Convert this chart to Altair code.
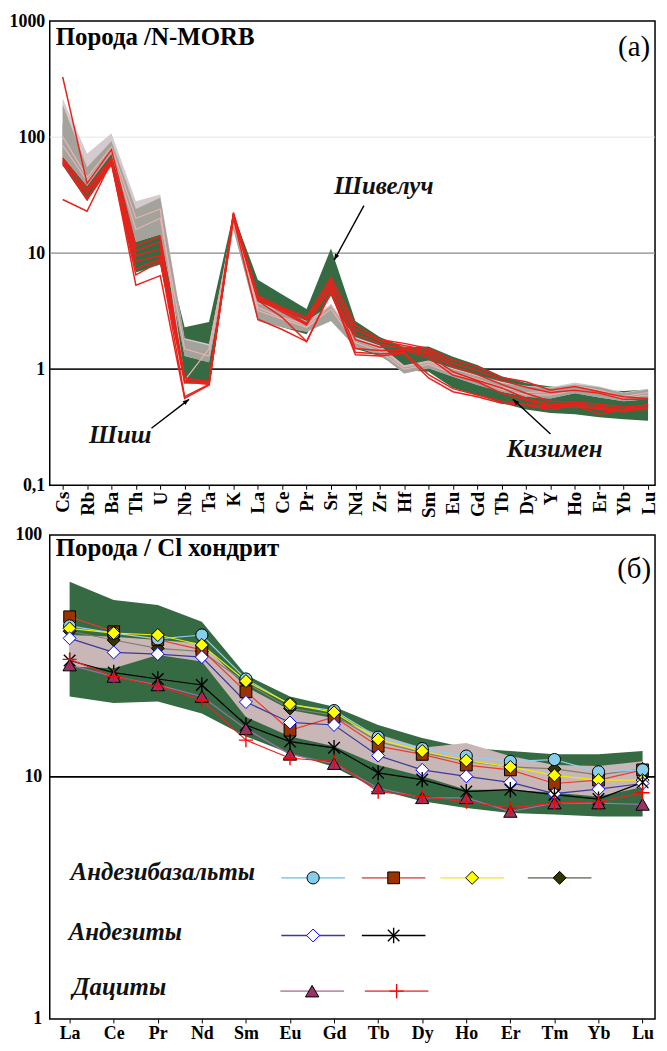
import altair as alt
import pandas as pd

# ---------------- panel (a): rock / N-MORB ----------------
ELEMENTS_A = ['Cs', 'Rb', 'Ba', 'Th', 'U', 'Nb', 'Ta', 'K', 'La', 'Ce', 'Pr', 'Sr', 'Nd',
              'Zr', 'Hf', 'Sm', 'Eu', 'Gd', 'Tb', 'Dy', 'Y', 'Ho', 'Er', 'Yb', 'Lu']
Y_TICKS_A = [0.1, 1, 10, 100, 1000]
Y_LABELS_A = ['0,1', '1', '10', '100', '1000']

SHIVELUCH_HI = [130, 45, 80, 13.5, 16.5, 2.3, 2.55, 22, 5.9, 4.4, 3.3, 11, 2.6, 1.9, 1.55,
                1.57, 1.28, 1.09, 0.87, 0.76, 0.71, 0.69, 0.66, 0.65, 0.67]
SHIVELUCH_LO = [57, 28, 58, 6.8, 8.0, 0.78, 0.76, 17, 2.7, 2.3, 2.0, 4.3, 1.5, 1.3, 0.98,
                0.95, 0.69, 0.60, 0.51, 0.45, 0.42, 0.41, 0.385, 0.37, 0.36]
KIZIMEN_OUTER_HI = [215, 72, 108, 28, 32, 1.85, 1.65, 19.5, 3.8, 3.2, 2.6, 3.6, 1.9, 1.6, 1.08,
                    1.19, 1.02, 0.89, 0.78, 0.72, 0.70, 0.77, 0.71, 0.63, 0.68]
KIZIMEN_HI = [190, 55, 92, 24, 30, 1.8, 1.6, 19, 3.7, 3.1, 2.55, 3.5, 1.85, 1.55, 1.06,
              1.17, 1.0, 0.87, 0.76, 0.71, 0.69, 0.74, 0.70, 0.62, 0.67]
KIZIMEN_LO = [68, 38, 72, 12.5, 14.5, 1.3, 1.15, 16, 2.6, 2.3, 2.1, 2.6, 1.55, 1.33, 0.92,
              1.02, 0.86, 0.73, 0.64, 0.58, 0.56, 0.62, 0.57, 0.53, 0.55]

SHISH_1 = [330, 40, 78, 11.6, 14, 0.84, 0.77, 22.4, 4.3, 3.4, 2.8, 6.2, 2.4, 1.8, 1.67,
           1.51, 1.2, 1.05, 0.85, 0.78, 0.66, 0.71, 0.64, 0.58, 0.56]
SHISH_2 = [29, 23, 62, 5.3, 6.4, 0.56, 0.73, 21.5, 4.2, 3.3, 2.7, 5.6, 2.2, 1.75, 1.6,
           1.45, 1.12, 0.98, 0.8, 0.7, 0.63, 0.66, 0.62, 0.55, 0.55]
SHISH_3 = [62, 30, 60, 7.3, 8.9, 0.58, 0.74, 20.5, 3.9, 2.8, 1.73, 4.6, 1.33, 1.3, 1.37,
           0.84, 0.64, 0.58, 0.51, 0.49, 0.45, 0.49, 0.41, 0.45, 0.45]
SHISH_4 = [60, 29, 58, 6.5, 8.5, 0.8, 0.75, 20, 2.7, 2.2, 1.73, 4.7, 1.4, 1.35, 1.4,
           0.9, 0.68, 0.6, 0.53, 0.5, 0.47, 0.5, 0.45, 0.43, 0.47]
SHISH_5 = [66, 36, 66, 9.5, 10.9, 0.84, 0.78, 22, 4.3, 3.3, 2.5, 5.8, 2.0, 1.65, 1.5,
           1.33, 0.95, 0.8, 0.69, 0.56, 0.5, 0.5, 0.48, 0.44, 0.47]
SHISH_6 = [58, 33, 62, 8.5, 9.5, 0.76, 0.76, 21, 4.0, 3.1, 2.4, 5.3, 1.51, 1.45, 1.46,
           1.25, 0.89, 0.78, 0.62, 0.54, 0.48, 0.47, 0.46, 0.45, 0.5]
SHISH_7 = [64, 35, 64, 10.5, 12.5, 0.78, 0.74, 21.5, 4.1, 3.2, 2.45, 5.0, 1.8, 1.55, 1.55,
           1.38, 1.05, 0.9, 0.74, 0.62, 0.53, 0.52, 0.5, 0.47, 0.49]
KIZ_LINE_1 = [101, 45, 82, 20, 24, 0.8, 1.5, 19, 3.4, 2.8, 2.4, 3.6, 1.8, 1.5, 1.05,
              1.15, 0.95, 0.82, 0.7, 0.63, 0.64, 0.72, 0.66, 0.58, 0.63]
KIZ_LINE_2 = [85, 42, 76, 16, 20, 1.5, 1.3, 18, 3.2, 2.7, 2.3, 3.3, 1.7, 1.42, 1.0,
              1.1, 0.92, 0.8, 0.67, 0.6, 0.6, 0.66, 0.62, 0.56, 0.6]

TITLE_A = 'Порода /N-MORB'
TAG_A = '(а)'
NAMES_A = ['Шивелуч', 'Шиш', 'Кизимен']
# arrows: tail (index, value) -> head (index, value), head angle
ARROW_I = [12.35, 3.64, 20.0]
ARROW_V = [25.7, 0.31, 0.276]
ARROW_I2 = [11.13, 5.18, 18.46]
ARROW_V2 = [8.7, 0.55, 0.55]
ARROW_ANGLE = [208, 53, 313]

# ---------------- panel (b): rock / CI chondrite ----------------
ELEMENTS_B = ['La', 'Ce', 'Pr', 'Nd', 'Sm', 'Eu', 'Gd', 'Tb', 'Dy', 'Ho', 'Er', 'Tm', 'Yb', 'Lu']
Y_TICKS_B = [1, 10, 100]
Y_LABELS_B = ['1', '10', '100']

GREEN_HI_B = [64, 53.8, 51.4, 43.8, 26.4, 21.5, 19.5, 16.4, 14.5, 13.2, 12.8, 12.4, 12.4, 12.8]
GREEN_LO_B = [21.5, 20.2, 20.5, 18.3, 14.7, 12.5, 11.0, 8.86, 7.93, 7.45, 7.1, 7.0, 6.87, 6.87]
PINK_HI_B = [38.6, 38, 36.8, 35.6, 23.6, 18.9, 17.5, 15.0, 13.2, 13.8, 12.2, 11.2, 11.1, 11.6]
PINK_LO_B = [28.6, 28.1, 31.9, 30, 17.7, 14.7, 13.4, 11.2, 10.06, 8.86, 8.86, 8.6, 8.3, 9.1]

AB_CIRCLE = [42.1, 39.3, 37.2, 38.6, 25.4, 19.9, 18.8, 14.6, 13.1, 12.2, 11.6, 11.8, 10.5, 10.7]
AB_SQUARE = [45.9, 39.8, 36.9, 33.5, 22.5, 15.6, 17.7, 13.4, 12.4, 11.2, 10.7, 9.4, 9.7, 10.7]
AB_YDIAMOND = [41.1, 39.3, 38.6, 35.1, 24.9, 20.0, 18.5, 14.3, 12.8, 11.7, 11.0, 10.15, 9.7, 9.7]
AB_DDIAMOND = [40, 36.8, 34, 33, 24.5, 19.2, 18, 14, 12.6, 11.6, 11, 10.8, 10.2, 10.8]
AN_WDIAMOND = [37.4, 32.7, 32.2, 31.3, 20.4, 16.8, 16.4, 12.25, 10.7, 10.06, 9.5, 8.53, 8.9, 9.4]
AN_ASTER = [30.3, 27.0, 25.4, 24.0, 16.4, 14.0, 13.2, 10.4, 9.75, 8.7, 8.86, 8.45, 8.1, 9.5]
DA_TRIANGLE = [29.0, 26.0, 24.0, 21.5, 15.8, 12.4, 11.35, 9.0, 8.2, 8.2, 7.2, 7.8, 7.8, 7.7]
DA_PLUS = [30.6, 26.0, 23.8, 20.8, 14.2, 11.95, 11.6, 8.7, 8.3, 7.9, 7.45, 7.8, 7.9, 8.6]

TITLE_B = 'Порода / Cl хондрит'
TAG_B = '(б)'
GROUPS_B = ['Андезибазальты', 'Андезиты', 'Дациты']

# ---------------- styling ----------------
SERIF = 'Liberation Serif'
GREEN = '#356a43'
ASTER = 'M0,-1L0,1M-0.75,-0.75L0.75,0.75M-0.75,0.75L0.75,-0.75'
PLUS = 'M-1,0L1,0M0,-1L0,1'
ARROWHEAD = 'M0,0L-0.45,1.2L0.45,1.2Z'

STYLE_B = {
    'ab4': dict(vals=AB_DDIAMOND, line='#7f7f70', shape='diamond', fill='#333300', stroke='black', size=170),
    'ab2': dict(vals=AB_SQUARE, line='#ee3a2a', shape='square', fill='#993300', stroke='black', size=140),
    'ab1': dict(vals=AB_CIRCLE, line='#8fd0ee', shape='circle', fill='#87cdec', stroke='black', size=150),
    'ab3': dict(vals=AB_YDIAMOND, line='#ecec00', shape='diamond', fill='#ffff00', stroke='black', size=170),
    'an1': dict(vals=AN_WDIAMOND, line='#3a3a9a', shape='diamond', fill='white', stroke='#0000ff', size=170),
    'an2': dict(vals=AN_ASTER, line='black', shape=ASTER, fill=None, stroke='black', size=240),
    'da1': dict(vals=DA_TRIANGLE, line='#a070a8', shape='triangle-up', fill='#993366', stroke='black', size=180),
    'da2': dict(vals=DA_PLUS, line='#ee2222', shape=PLUS, fill=None, stroke='#ff0000', size=200),
}
LEGEND_ROWS = [
    (GROUPS_B[0], 21, 339, 345, [('ab1', 265), ('ab2', 346), ('ab3', 425), ('ab4', 513)]),
    (GROUPS_B[1], 19, 400, 403, [('an1', 265), ('an2', 346)]),
    (GROUPS_B[2], 23, 455, 459, [('da1', 264), ('da2', 349)]),
]
LEGEND_LINE = {'ab1': '#8fd0ee', 'ab2': '#e07068', 'ab3': '#f0f060', 'ab4': '#8a8a80',
               'an1': '#3a3a9a', 'an2': 'black', 'da1': '#c090b0', 'da2': '#e86060'}


def expr_from(keys, labels):
    parts = [f"datum.value == {k} ? '{l}'" for k, l in zip(keys, labels)]
    return ' : '.join(parts) + " : ''"


def points_marker(st, **kw):
    if st['fill'] is None:
        return dict(shape=st['shape'], size=st['size'], filled=False, stroke=st['stroke'],
                    strokeWidth=1.4, opacity=1, **kw)
    return dict(shape=st['shape'], size=st['size'], filled=True, fill=st['fill'],
                stroke=st['stroke'], strokeWidth=1, opacity=1, fillOpacity=1, **kw)


# ================= Panel A =================
W, HA, HB = 609, 467, 487
idx_a = list(range(len(ELEMENTS_A)))
label_expr_a = '[' + ','.join(f"'{e}'" for e in ELEMENTS_A) + '][datum.value]'
XA = alt.X('i:Q', scale=alt.Scale(domain=[-0.53, 24.285], nice=False, zero=False),
           axis=alt.Axis(values=idx_a, labelExpr=label_expr_a, labelAngle=270, labelFont=SERIF,
                         labelFontWeight='bold', labelFontSize=19, labelColor='black',
                         tickColor='black', tickSize=4, labelPadding=2, domain=False, grid=False,
                         labelOverlap=False, labelFlush=False, labelBound=False),
           title=None)
YA_SCALE = alt.Scale(type='log', domain=[0.1, 1000], nice=False)
YA_AXIS = alt.Axis(values=Y_TICKS_A, labelExpr=expr_from(Y_TICKS_A, Y_LABELS_A), labelFont=SERIF,
                   labelFontWeight='bold', labelFontSize=18, labelColor='black', ticks=False,
                   labelPadding=5, domain=False, grid=False, labelOverlap=False, labelFlush=False)


def YA(field):
    return alt.Y(field, scale=YA_SCALE, axis=YA_AXIS, title=None)


env_a = pd.DataFrame({'i': idx_a, 'shv_hi': SHIVELUCH_HI, 'shv_lo': SHIVELUCH_LO,
                      'kz_oh': KIZIMEN_OUTER_HI, 'kz_hi': KIZIMEN_HI, 'kz_lo': KIZIMEN_LO})
red_sets = {'s1': SHISH_1, 's2': SHISH_2, 's3': SHISH_3, 's4': SHISH_4, 's5': SHISH_5,
            's6': SHISH_6, 's7': SHISH_7}
red_df = pd.DataFrame([{'i': i, 'v': v, 'line': k} for k, vals in red_sets.items()
                       for i, v in enumerate(vals)])
pink_df = pd.DataFrame([{'i': i, 'v': v, 'line': k} for k, vals in
                        {'k1': KIZ_LINE_1, 'k2': KIZ_LINE_2}.items() for i, v in enumerate(vals)])
refs_a = pd.DataFrame({'v': [100, 10, 1]})

base_env = alt.Chart(env_a)
la = []
la.append(alt.Chart(refs_a.iloc[[0]]).mark_rule(color='#e6e6e6', strokeWidth=1).encode(y=YA('v:Q')))
la.append(alt.Chart(refs_a.iloc[[1]]).mark_rule(color='#8a8a8a', strokeWidth=1.2).encode(y=YA('v:Q')))
la.append(alt.Chart(refs_a.iloc[[2]]).mark_rule(color='#222222', strokeWidth=1.8).encode(y=YA('v:Q')))
la.append(base_env.mark_area(color=GREEN, opacity=1).encode(x=XA, y=YA('shv_hi:Q'), y2='shv_lo:Q'))
la.append(base_env.mark_area(color='#d5cbcf', opacity=1).encode(x=XA, y=YA('kz_oh:Q'), y2='kz_lo:Q'))
la.append(base_env.mark_area(color='#a3a39c', opacity=1).encode(x=XA, y=YA('kz_hi:Q'), y2='kz_lo:Q'))
la.append(alt.Chart(pink_df).mark_line(color='#e9b3b3', strokeWidth=1.2).encode(
    x=XA, y=YA('v:Q'), detail='line:N'))
la.append(alt.Chart(red_df).mark_line(color='#e8231c', strokeWidth=1.5).encode(
    x=XA, y=YA('v:Q'), detail='line:N'))

arrows = pd.DataFrame({'i': ARROW_I, 'v': ARROW_V, 'i2': ARROW_I2, 'v2': ARROW_V2})
heads = pd.DataFrame({'i': ARROW_I2, 'v': ARROW_V2, 'ang': ARROW_ANGLE})
la.append(alt.Chart(arrows).mark_rule(color='black', strokeWidth=1.4).encode(
    x=XA, y=YA('v:Q'), x2='i2:Q', y2='v2:Q'))
la.append(alt.Chart(heads).mark_point(shape=ARROWHEAD, size=110, filled=True, color='black',
                                      opacity=1).encode(
    x=XA, y=YA('v:Q'), angle=alt.Angle('ang:Q', scale=None)))

txt = lambda t: alt.Chart(pd.DataFrame({'t': [t]}))
la.append(txt(TITLE_A).mark_text(font=SERIF, fontWeight='bold', fontSize=25, align='left',
                                  baseline='alphabetic', color='black').encode(
    x=alt.value(6), y=alt.value(24), text='t:N'))
la.append(txt(TAG_A).mark_text(font=SERIF, fontSize=29, align='right', baseline='alphabetic',
                                color='black').encode(x=alt.value(604), y=alt.value(35), text='t:N'))
for name, px, py in zip(NAMES_A, [336, 71, 508], [165.5, 416.5, 430.5]):
    la.append(txt(name).mark_text(font=SERIF, fontWeight='bold', fontStyle='italic', fontSize=25,
                                  align='center', baseline='middle', color='#111').encode(
        x=alt.value(px), y=alt.value(py), text='t:N'))

panel_a = alt.layer(*la).properties(width=W, height=HA)

# ================= Panel B =================
idx_b = list(range(len(ELEMENTS_B)))
label_expr_b = '[' + ','.join(f"'{e}'" for e in ELEMENTS_B) + '][datum.value]'
XB_SCALE = alt.Scale(domain=[-0.451, 13.282], nice=False, zero=False)
XB = alt.X('i:Q', scale=XB_SCALE,
           axis=alt.Axis(values=idx_b, labelExpr=label_expr_b, labelAngle=0, labelFont=SERIF,
                         labelFontWeight='bold', labelFontSize=18, labelColor='black',
                         tickColor='black', tickSize=4, labelPadding=2, domain=False, grid=False,
                         labelOverlap=False, labelFlush=False),
           title=None)
YB_SCALE = alt.Scale(type='log', domain=[1, 100], nice=False)
YB_AXIS = alt.Axis(values=Y_TICKS_B, labelExpr=expr_from(Y_TICKS_B, Y_LABELS_B), labelFont=SERIF,
                   labelFontWeight='bold', labelFontSize=18, labelColor='black', ticks=False,
                   labelPadding=8, domain=False, grid=False, labelOverlap=False, labelFlush=False)


def YB(field):
    return alt.Y(field, scale=YB_SCALE, axis=YB_AXIS, title=None)


env_b = pd.DataFrame({'i': idx_b, 'g_hi': GREEN_HI_B, 'g_lo': GREEN_LO_B,
                      'p_hi': PINK_HI_B, 'p_lo': PINK_LO_B})
lb = []
lb.append(alt.Chart(pd.DataFrame({'v': [10]})).mark_rule(color='black', strokeWidth=1.8).encode(y=YB('v:Q')))
lb.append(alt.Chart(env_b).mark_area(color=GREEN, opacity=1).encode(x=XB, y=YB('g_hi:Q'), y2='g_lo:Q'))
lb.append(alt.Chart(env_b).mark_area(color='#c9b7b8', opacity=1).encode(x=XB, y=YB('p_hi:Q'), y2='p_lo:Q'))

for key, st in STYLE_B.items():
    d = pd.DataFrame({'i': idx_b, 'v': st['vals']})
    lb.append(alt.Chart(d).mark_line(color=st['line'], strokeWidth=1.2).encode(x=XB, y=YB('v:Q')))
for key, st in STYLE_B.items():
    d = pd.DataFrame({'i': idx_b, 'v': st['vals']})
    lb.append(alt.Chart(d).mark_point(**points_marker(st)).encode(x=XB, y=YB('v:Q')))

lb.append(txt(TITLE_B).mark_text(font=SERIF, fontWeight='bold', fontSize=25, align='left',
                                  baseline='alphabetic', color='black').encode(
    x=alt.value(6), y=alt.value(21), text='t:N'))
lb.append(txt(TAG_B).mark_text(font=SERIF, fontSize=29, align='right', baseline='alphabetic',
                                color='black').encode(x=alt.value(605), y=alt.value(43), text='t:N'))

# legend
for label, tx, ty, sy, items in LEGEND_ROWS:
    lb.append(txt(label).mark_text(font=SERIF, fontWeight='bold', fontStyle='italic', fontSize=25,
                                   align='left', baseline='middle', color='#111').encode(
        x=alt.value(tx), y=alt.value(ty), text='t:N'))
    for key, cx in items:
        st = STYLE_B[key]
        lb.append(txt(key).mark_rule(color=LEGEND_LINE[key], strokeWidth=1.6).encode(
            x=alt.value(cx - 32), x2=alt.value(cx + 32), y=alt.value(sy)))
        lb.append(txt(key).mark_point(**points_marker(st)).encode(x=alt.value(cx), y=alt.value(sy)))

panel_b = alt.layer(*lb).properties(width=W, height=HB)

chart = alt.vconcat(panel_a, panel_b, spacing=6).properties(
    padding={'left': 0, 'top': 0, 'right': 0, 'bottom': 0}
).configure_view(stroke='black', strokeWidth=1.5)

chart.save('out.html', embed_options={'renderer': 'svg', 'actions': False})
